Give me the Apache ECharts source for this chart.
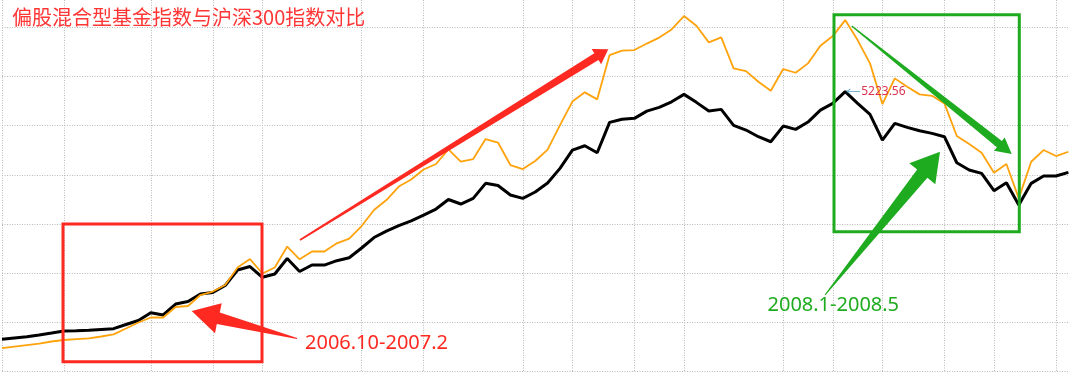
<!DOCTYPE html>
<html>
<head>
<meta charset="utf-8">
<script src="https://cdn.jsdelivr.net/npm/echarts@6/dist/echarts.min.js"></script>
<style>
html,body{margin:0;padding:0;background:#fff;}
#chart{width:1080px;height:373px;}
</style>
</head>
<body>
<div id="chart"></div>
<script>
// 沪深300 (black) weekly values
const hs300 = [596,620,642,676,713,751,756,764,779,794,872,947,1093,1050,1255,1302,1442,1470,1601,1890,
  1955,1754,1815,2105,1862,1983,1983,2064,2120,2301,2497,2618,2721,2809,2917,3029,3207,3123,3229,3509,
  3468,3291,3229,3347,3515,3789,4131,4211,4081,4648,4706,4723,4859,4929,5033,5171,5022,4859,4891,4592,
  4505,4380,4286,4579,4518,4654,4878,5003,5223.56,5003,4798,4318,4630,4555,4492,4443,4380,3894,3758,3696,
  3371,3520,3104,3509,3646,3646,3715];
// 偏股混合型基金指数 (orange) weekly values
const fundIdx = [433,461,489,517,555,583,601,614,648,689,797,910,1003,1003,1199,1218,1423,1488,1610,1937,
  2095,1825,1937,2329,2090,2236,2236,2389,2478,2712,3011,3197,3449,3580,3767,3870,4144,3913,3963,4337,
  4271,3851,3776,3926,4140,4598,5037,5209,5078,5905,5989,5999,6120,6232,6385,6634,6453,6143,6236,5657,
  5606,5407,5239,5644,5575,5750,6079,6260,6559,6185,5750,4990,5470,5313,5171,5145,5003,4393,4243,4081,
  3707,3870,3229,3913,4131,4019,4099];
// week categories (unlabelled in the picture)
const weeks = hs300.map((_, i) => 'W' + (i + 1));
// weeks at which a month boundary grid line is drawn
const monthStarts = [0,5,12,17,21,29,34,42,46,51,55,63,67,71,76,80,85];

const titleText = '偏股混合型基金指数与沪深300指数对比';
const note1 = '2006.10-2007.2';
const note2 = '2008.1-2008.5';

const RED = '#fe2a22';
const GREEN = '#1fab1f';
const gridStyle = {color:'#b9b9b9', width:1, type:[1,1.5]};

const chart = echarts.init(document.getElementById('chart'), null, {renderer:'canvas'});

function poly(points, color){
  return {type:'polygon', z:100, silent:true, shape:{points:points}, style:{fill:color}};
}

chart.setOption({
  animation:false,
  backgroundColor:'#ffffff',
  grid:{left:2, right:11.6, top:0, bottom:1.8, containLabel:false},
  xAxis:{
    type:'category', data:weeks, boundaryGap:false,
    axisLine:{show:false}, axisTick:{show:false}, axisLabel:{show:false},
    splitLine:{show:true, interval:function(idx){ return monthStarts.indexOf(idx) >= 0; }, lineStyle:gridStyle}
  },
  yAxis:{
    type:'value', min:0, max:6934, interval:917,
    axisLine:{show:false}, axisTick:{show:false}, axisLabel:{show:false},
    splitLine:{show:true, showMaxLine:false, lineStyle:gridStyle}
  },
  series:[
    {
      name:'沪深300', type:'line', data:hs300, symbol:'none', z:3,
      lineStyle:{color:'#000000', width:3}, itemStyle:{color:'#000000'},
      markPoint:{
        silent:true,
        data:[{type:'max'}],
        symbol:'path://M0,3 L4,0 L4.4,0.6 L1.6,2.6 L14,2.6 L14,3.4 L1.6,3.4 L4.4,5.4 L4,6 Z',
        symbolSize:[14,6], symbolOffset:[8,0],
        itemStyle:{color:'#4f9fc0'},
        label:{show:true, position:'right', distance:1, formatter:'{c}', color:'#dd3350', fontSize:12,
               fontFamily:'Noto Sans'}
      }
    },
    {
      name:'偏股混合型基金指数', type:'line', data:fundIdx, symbol:'none', z:4,
      lineStyle:{color:'#ffa30d', width:1.8}, itemStyle:{color:'#ffa30d'}
    }
  ],
  graphic:[
    {type:'text', z:100, silent:true, x:12, y:17,
     style:{text:titleText, fill:'#ff3636', font:'20px "Noto Sans CJK SC"', verticalAlign:'middle', textVerticalAlign:'middle'}},
    {type:'rect', z:100, silent:true, shape:{x:63, y:224, width:199, height:137.7},
     style:{fill:'none', stroke:RED, lineWidth:3}},
    poly([[297.1,338.0],[219.8,312.5],[221.7,303.3],[191.7,311],[215,333.3],[216.8,324.1],[296.9,339.0]], RED),
    poly([[300.5,240.8],[598.5,60.1],[601.1,64.3],[608.3,49.3],[591.7,49.1],[594.3,53.3],[299.5,239.2]], RED),
    {type:'text', z:100, silent:true, x:305, y:343,
     style:{text:note1, fill:RED, font:'20px "Noto Sans"', verticalAlign:'middle', textVerticalAlign:'middle'}},
    {type:'rect', z:100, silent:true, shape:{x:834, y:14.7, width:185.3, height:217},
     style:{fill:'none', stroke:GREEN, lineWidth:3}},
    poly([[851.3,26.5],[996.9,147.3],[994.1,150.8],[1011.7,154],[1004.7,137.6],[1001.9,141.1],[852.1,25.5]], GREEN),
    poly([[825.4,295.3],[927.4,177.8],[935.3,184.2],[940,151.7],[909.3,163.2],[917.2,169.6],[824.6,294.7]], GREEN),
    {type:'text', z:100, silent:true, x:767.5, y:305.5,
     style:{text:note2, fill:GREEN, font:'20px "Noto Sans"', verticalAlign:'middle', textVerticalAlign:'middle'}}
  ]
});
</script>
</body>
</html>
